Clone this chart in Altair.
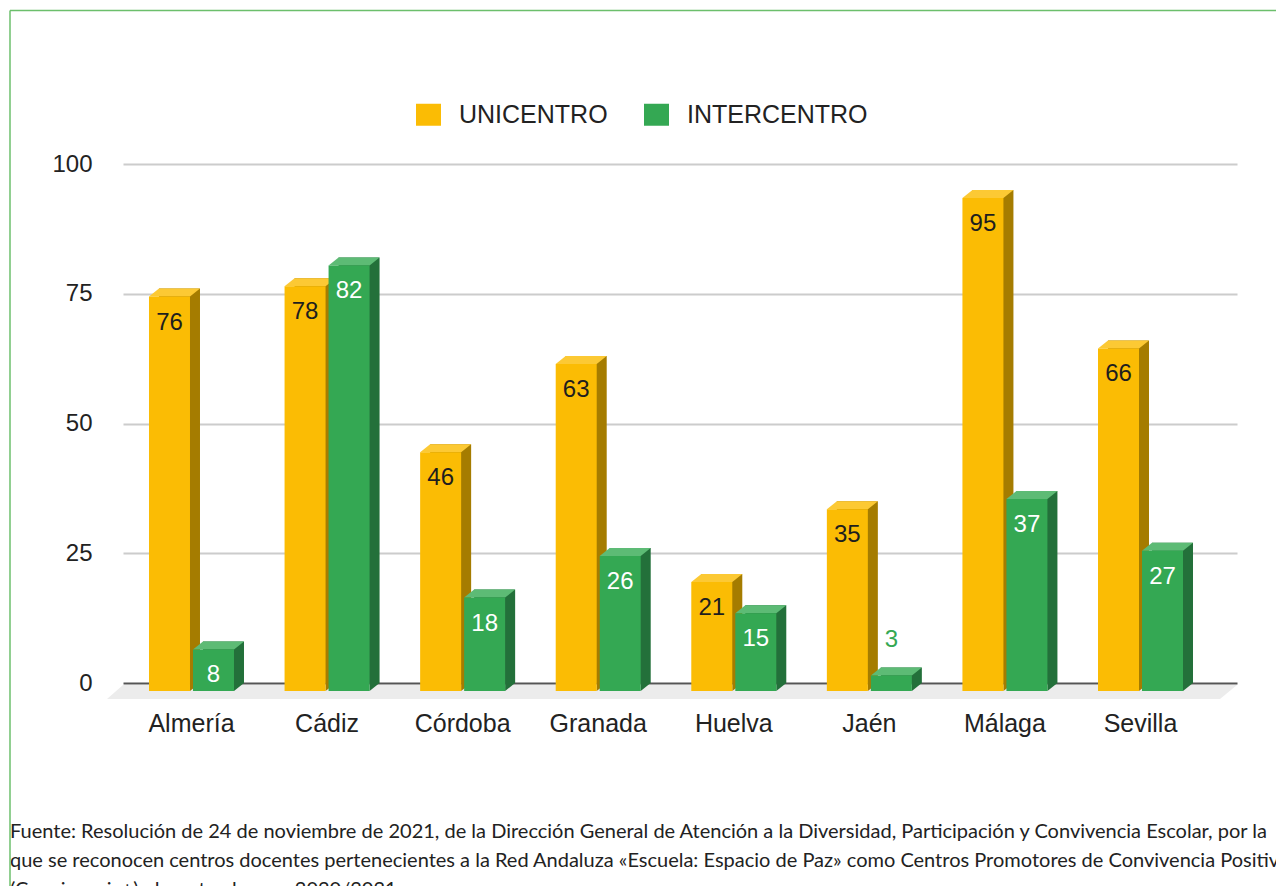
import altair as alt
import pandas as pd

# ---------------- data ----------------
provincias = ["Almería", "Cádiz", "Córdoba", "Granada", "Huelva", "Jaén", "Málaga", "Sevilla"]
unicentro = [76, 78, 46, 63, 21, 35, 95, 66]
intercentro = [8, 82, 18, 26, 15, 3, 37, 27]
series = ["UNICENTRO", "INTERCENTRO"]
y_ticks = [0, 25, 50, 75, 100]
nota = [
    "Fuente: Resolución de 24 de noviembre de 2021, de la Dirección General de Atención a la Diversidad, Participación y Convivencia Escolar, por la",
    "que se reconocen centros docentes pertenecientes a la Red Andaluza «Escuela: Espacio de Paz» como Centros Promotores de Convivencia Positiva",
    "(Convivencia+), durante el curso 2020/2021.",
]

rows = []
for p, u, i in zip(provincias, unicentro, intercentro):
    rows.append({"provincia": p, "serie": series[0], "valor": u})
    rows.append({"provincia": p, "serie": series[1], "valor": i})
df = pd.DataFrame(rows)
one = pd.DataFrame({"k": [0]})

# ---------------- styles ----------------
FONT = "Liberation Sans"
front_col = {"UNICENTRO": "#FBBC04", "INTERCENTRO": "#34A853"}
top_col = {"UNICENTRO": "#FCC934", "INTERCENTRO": "#5DBB75"}
side_col = {"UNICENTRO": "#A57C00", "INTERCENTRO": "#23703A"}
label_col = {"UNICENTRO": "#1E1E1E", "INTERCENTRO": "#FFFFFF"}
front_off = {"UNICENTRO": -32, "INTERCENTRO": 12}
BAR_W = 41
DX, DY = 10, 8


def fmt(v):
    return f"{v:.5f}"


# top face parallelogram (front edge BAR_W wide, depth DX x DY)
S_top = BAR_W + DX
h = S_top / 2
top_pts = [(-h, DY / 2), (-h + BAR_W, DY / 2), (h, -DY / 2), (-h + DX, -DY / 2)]
TOP_PATH = "M" + "L".join(f"{fmt(a / h)},{fmt(b / h)}" for a, b in top_pts) + "Z"
# bottom triangle of side face
TRI_PATH = "M-1,-0.8L1,-0.8L-1,0.8Z"
# floor slab
fl_l, fl_r, fl_dx, fl_h = 107, 1237, 16, 14
fl_half = (fl_r - fl_l) / 2
floor_pts = [(-fl_half, fl_h / 2), (fl_half - fl_dx - 1, fl_h / 2), (fl_half, -fl_h / 2), (-fl_half + fl_dx, -fl_h / 2)]
FLOOR_PATH = "M" + "L".join(f"{fmt(a / fl_half)},{fmt(b / fl_half)}" for a, b in floor_pts) + "Z"
LEG_PATH = "M-1,-0.88L1,-0.88L1,0.88L-1,0.88Z"

xscale = alt.Scale(paddingInner=0, paddingOuter=0.1085, align=0.364)
yscale = alt.Scale(domain=[0, 100], nice=False, zero=True)
yaxis = alt.Axis(
    values=y_ticks,
    gridColor=alt.condition("datum.value === 0", alt.value("#555555"), alt.value("#cccccc")),
)


def X():
    return alt.X("provincia:N", sort=provincias, scale=xscale, title=None)


def Y(field="valor:Q"):
    return alt.Y(field, scale=yscale, axis=yaxis, title=None)


layers = []

# floor
layers.append(
    alt.Chart(one).mark_point(
        shape=FLOOR_PATH, size=(2 * fl_half) ** 2, filled=True, opacity=1,
        strokeWidth=0, color="#ececec", yOffset=9,
    ).encode(x=alt.value((fl_l + fl_r) / 2 - 123), y=alt.YDatum(0, scale=yscale))
)

for s in series:
    base = alt.Chart(df).transform_filter(alt.datum.serie == s)
    off = front_off[s]
    # back / side block
    layers.append(
        base.mark_bar(width=BAR_W, color=side_col[s], xOffset=off + DX).encode(
            x=X(), y=Y(), y2=alt.Y2Datum(0)
        )
    )
    # top face
    layers.append(
        base.mark_point(
            shape=TOP_PATH, size=S_top ** 2, filled=True, opacity=1, strokeWidth=0,
            color=top_col[s], xOffset=off + 5, yOffset=DY / 2,
        ).encode(x=X(), y=Y())
    )
    # bottom triangle of side face
    layers.append(
        base.mark_point(
            shape=TRI_PATH, size=DX ** 2, filled=True, opacity=1, strokeWidth=0,
            color=side_col[s], xOffset=off + BAR_W / 2 + DX / 2, yOffset=DY / 2,
        ).encode(x=X(), y=alt.YDatum(0, scale=yscale))
    )
    # front face
    layers.append(
        base.mark_bar(width=BAR_W, xOffset=off, yOffset=DY, y2Offset=DY).encode(
            x=X(), y=Y(), y2=alt.Y2Datum(0),
            color=alt.Color(
                "serie:N",
                scale=alt.Scale(domain=series, range=[front_col[k] for k in series]),
                sort=series,
                legend=alt.Legend(
                    title=None, orient="none", legendX=293, legendY=-62,
                    direction="horizontal", symbolType=LEG_PATH, symbolSize=625,
                    symbolStrokeWidth=0, symbolOpacity=1, labelFont=FONT,
                    labelFontSize=25, labelColor="#222222", labelOffset=18,
                    columnPadding=36, padding=0, labelLimit=0,
                ),
            ),
        )
    )

for s in series:
    base = alt.Chart(df).transform_filter(alt.datum.serie == s)
    off = front_off[s]
    layers.append(
        base.transform_filter(alt.datum.valor >= 5).mark_text(
            font=FONT, fontSize=24, color=label_col[s], baseline="middle",
            xOffset=off, yOffset=DY + 26,
        ).encode(x=X(), y=Y(), text="valor:Q")
    )
    layers.append(
        base.transform_filter(alt.datum.valor < 5).mark_text(
            font=FONT, fontSize=24, color=front_col[s], baseline="middle",
            xOffset=off, yOffset=DY - 35,
        ).encode(x=X(), y=Y(), text="valor:Q")
    )

# footnote
layers.append(
    alt.Chart(one).mark_text(
        text=nota, align="left", baseline="alphabetic", font="Lato", fontSize=20,
        lineHeight=29, color="#222222",
    ).encode(x=alt.value(-113), y=alt.value(674))
)
# green frame lines
layers.append(
    alt.Chart(one).mark_rule(color="#6cbf6c", strokeWidth=1.5).encode(
        x=alt.value(-113), x2=alt.value(1170), y=alt.value(-153.5)
    )
)
layers.append(
    alt.Chart(one).mark_rule(color="#6cbf6c", strokeWidth=1.5).encode(
        x=alt.value(-113), y=alt.value(-153.5), y2=alt.value(740)
    )
)

chart = (
    alt.layer(*layers)
    .properties(
        width=1114, height=519,
        autosize=alt.AutoSizeParams(type="none"),
        padding={"left": 115, "top": 156, "right": 39, "bottom": 203},
        background="white",
    )
    .configure_view(stroke=None)
    .configure_axisX(
        labelFont=FONT, labelFontSize=25, labelColor="#222222", labelPadding=40,
        labelBaseline="middle", labelOffset=-10, ticks=False, domain=False,
        grid=False, labelAngle=0,
    )
    .configure_axisY(
        labelFont=FONT, labelFontSize=24, labelColor="#222222", labelPadding=31,
        grid=True, gridWidth=2, domain=False, ticks=False,
    )
)

chart.save("out.html", embed_options={"renderer": "svg", "actions": False})
